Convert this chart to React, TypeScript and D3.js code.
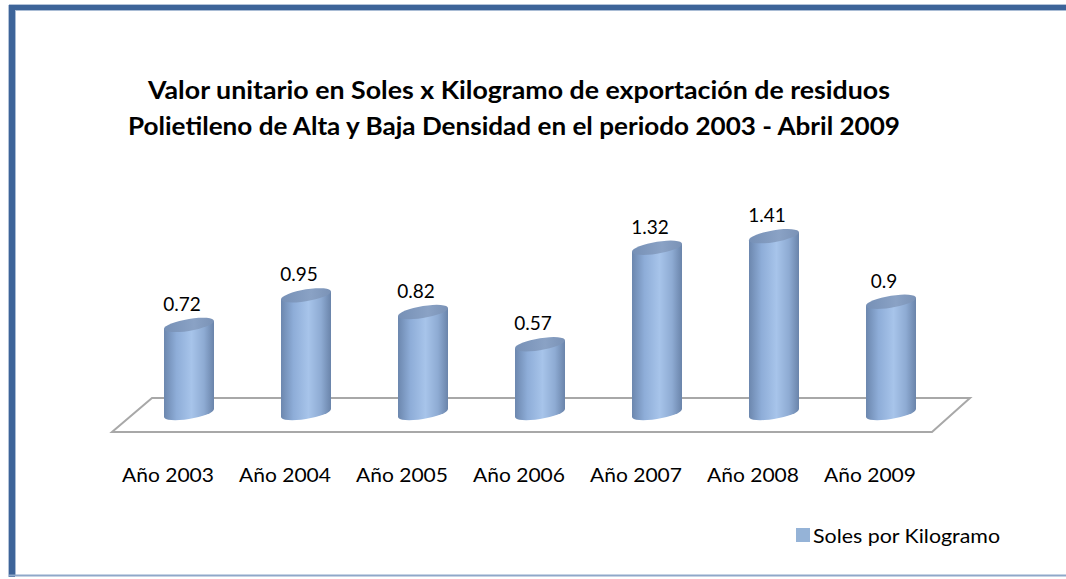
import React from 'react';
import * as d3 from 'd3';

const categories = ['Año 2003', 'Año 2004', 'Año 2005', 'Año 2006', 'Año 2007', 'Año 2008', 'Año 2009'];
const values = [0.72, 0.95, 0.82, 0.57, 1.32, 1.41, 0.9];
const valueLabels = ['0.72', '0.95', '0.82', '0.57', '1.32', '1.41', '0.9'];
const titleLines = [
  'Valor unitario en Soles x Kilogramo de exportación de residuos',
  'Polietileno de Alta y Baja Densidad en el periodo 2003 - Abril 2009',
];
const seriesName = 'Soles por Kilogramo';

const W = 1066;
const H = 579;
const FONT = 'Lato, "Open Sans", sans-serif';

const App = () => {
  // escala horizontal: una banda por año
  const x = d3.scaleBand<string>().domain(categories).range([130.5, 949.5]).padding(0);
  // escala vertical: centro de la tapa del cilindro
  const y = d3.scaleLinear().domain([0, 1.5]).range([417.5, 224.6]);

  const rx = 25;
  const ry = 6;
  const skew = -9;
  const baseY = 413;

  const floor = d3.line()([
    [152, 398],
    [970, 398],
    [932, 432],
    [112, 432],
  ]) + 'Z';

  return (
    <svg width={W} height={H} style={{ position: 'absolute', left: 0, top: 0, background: '#fff' }}>
      <defs>
        <linearGradient id="body" x1="0" x2="1" y1="0" y2="0">
          <stop offset="0%" stopColor="#6c87ae" />
          <stop offset="25%" stopColor="#8eadd8" />
          <stop offset="55%" stopColor="#a7c4ea" />
          <stop offset="80%" stopColor="#8eabd3" />
          <stop offset="100%" stopColor="#6a84aa" />
        </linearGradient>
        <linearGradient id="cap" x1="0" x2="1" y1="0" y2="0">
          <stop offset="0%" stopColor="#7690b6" />
          <stop offset="60%" stopColor="#8aa2c5" />
          <stop offset="100%" stopColor="#7a92b6" />
        </linearGradient>
      </defs>

      {/* marco */}
      <rect x={9} y={5} width={W - 9} height={5} fill="#3d6499" />
      <line x1={9} x2={W} y1={4.5} y2={4.5} stroke="#b3c3d9" />
      <line x1={9} x2={W} y1={10.5} y2={10.5} stroke="#a9bcd5" />
      <rect x={9} y={5} width={6} height={572} fill="#3d6499" />
      <line x1={8.5} x2={8.5} y1={5} y2={577} stroke="#b3c3d9" />
      <line x1={15.5} x2={15.5} y1={10} y2={575} stroke="#a9bcd5" />
      <line x1={9} x2={W} y1={575.5} y2={575.5} stroke="#8fa8c9" strokeWidth={2} />

      {/* título */}
      <g fontFamily={FONT} fontWeight="bold" fontSize={24} fill="#000" textAnchor="middle">
        <text x={519} y={99} textLength={742} lengthAdjust="spacingAndGlyphs">{titleLines[0]}</text>
        <text x={514} y={135} textLength={772} lengthAdjust="spacingAndGlyphs">{titleLines[1]}</text>
      </g>

      {/* suelo */}
      <path d={floor} fill="#fff" stroke="#a8a8a8" strokeWidth={2} />

      {/* cilindros */}
      {categories.map((c, i) => {
        const cx = (x(c) as number) + x.bandwidth() / 2;
        const yt = y(values[i]);
        const body = `M${-rx},${yt} L${-rx},${baseY} A${rx},${ry} 0 0 0 ${rx},${baseY} L${rx},${yt} Z`;
        return (
          <g key={c} transform={`translate(${cx},0) skewY(${skew})`}>
            <path d={body} fill="url(#body)" />
            <ellipse cx={0} cy={yt} rx={rx} ry={ry} fill="url(#cap)" />
          </g>
        );
      })}

      {/* etiquetas de valores */}
      <g fontFamily={FONT} fontSize={19} fill="#000" textAnchor="middle">
        {categories.map((c, i) => {
          const cx = (x(c) as number) + x.bandwidth() / 2;
          return (
            <text key={c} x={cx - 7} y={y(values[i]) - 14}>{valueLabels[i]}</text>
          );
        })}
      </g>

      {/* eje de categorías */}
      <g fontFamily={FONT} fontSize={19} fill="#000" textAnchor="middle">
        {categories.map((c) => {
          const cx = (x(c) as number) + x.bandwidth() / 2;
          return (
            <text key={c} x={cx - 21} y={482} textLength={92} lengthAdjust="spacingAndGlyphs">{c}</text>
          );
        })}
      </g>

      {/* leyenda */}
      <rect x={796} y={528} width={14} height={14} fill="#95b3d7" />
      <text x={813} y={543} fontFamily={FONT} fontSize={19} fill="#000" textLength={187} lengthAdjust="spacingAndGlyphs">{seriesName}</text>
    </svg>
  );
};

export default App;
